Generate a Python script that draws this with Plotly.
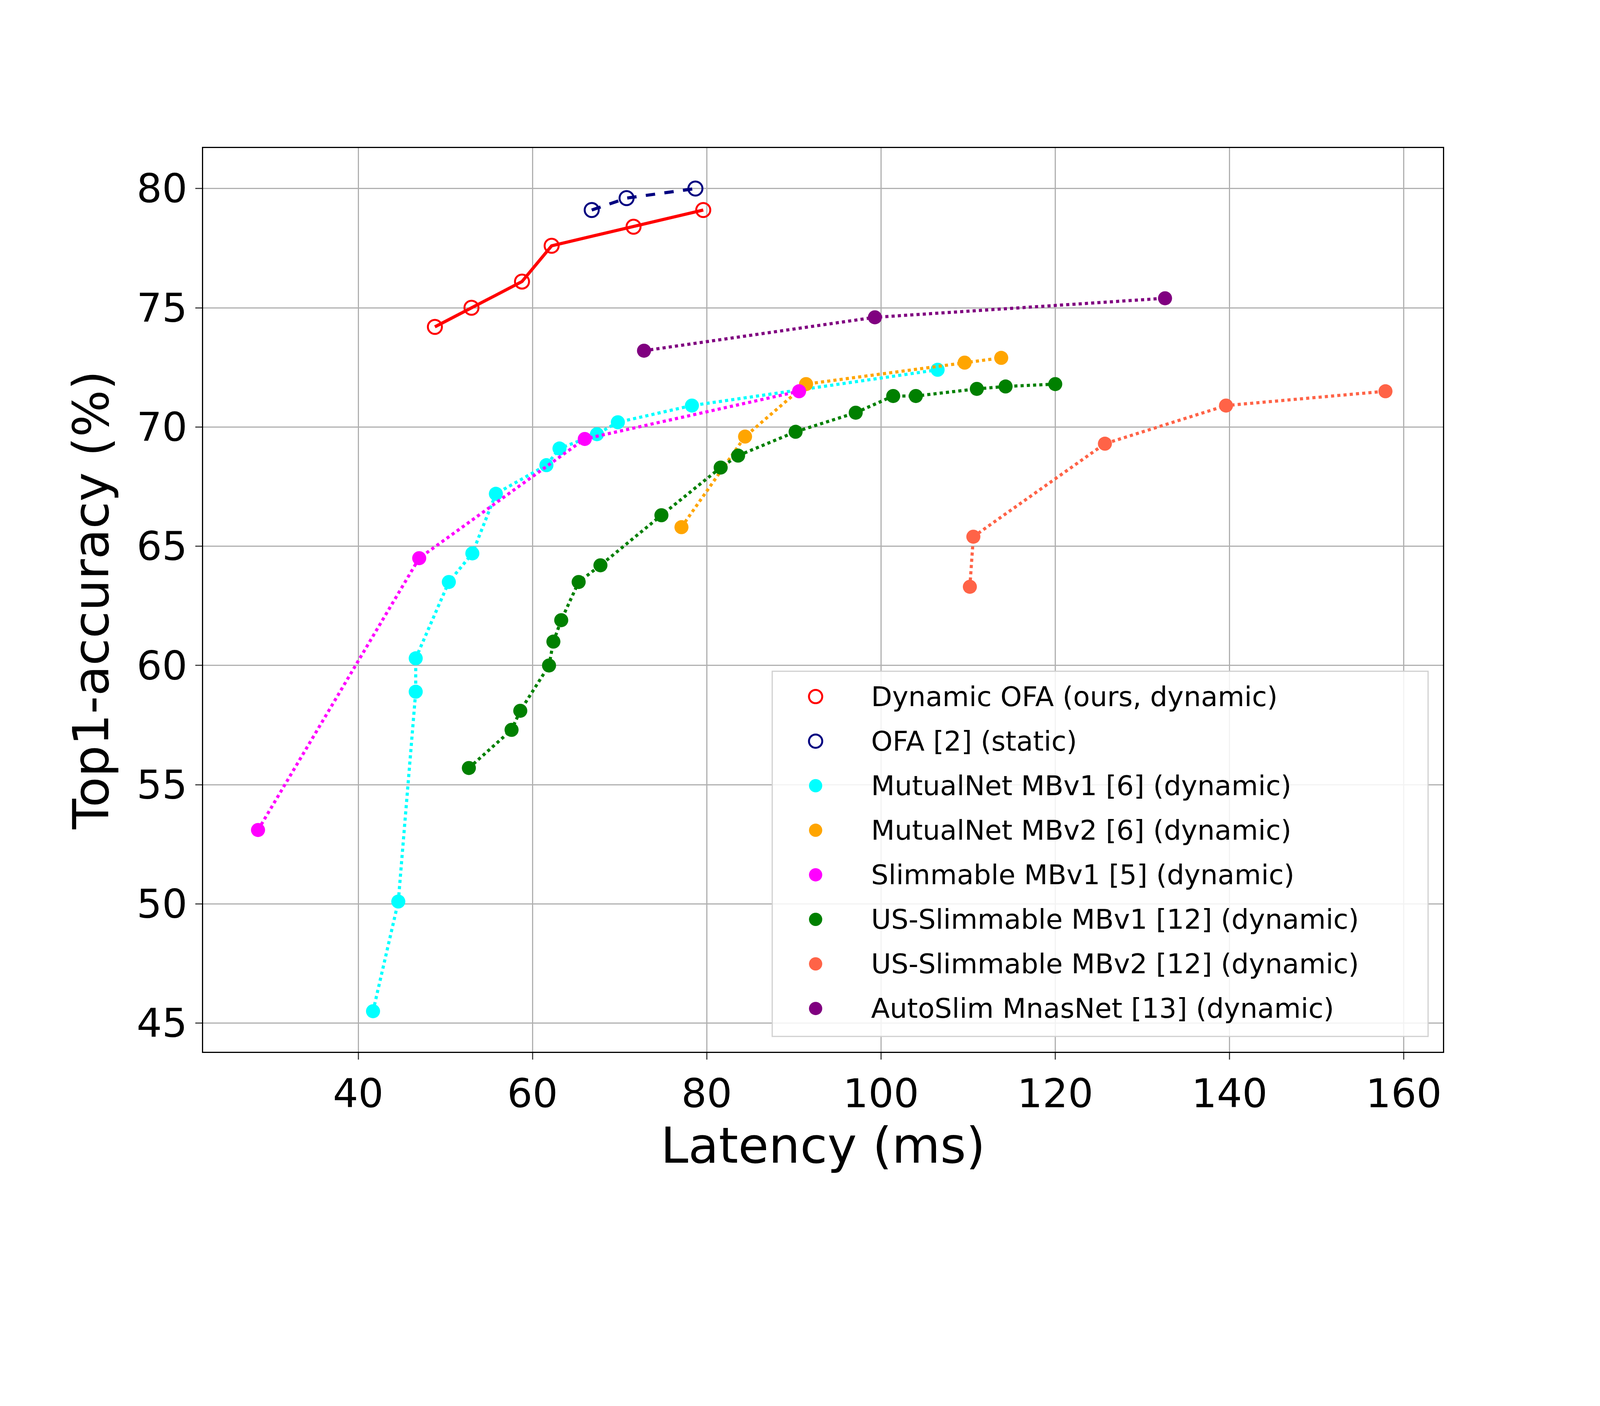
import plotly.graph_objects as go

ofa_dyn_x = [48.8, 53.0, 58.8, 62.2, 71.6, 79.6]
ofa_dyn_y = [74.2, 75.0, 76.1, 77.6, 78.4, 79.1]
ofa_x = [66.8, 70.8, 78.7]
ofa_y = [79.1, 79.6, 80.0]
mn1_x = [41.7, 44.6, 46.6, 46.6, 50.4, 53.1, 55.8, 61.6, 63.1, 67.4, 69.8, 78.3, 106.5]
mn1_y = [45.5, 50.1, 58.9, 60.3, 63.5, 64.7, 67.2, 68.4, 69.1, 69.7, 70.2, 70.9, 72.4]
mn2_x = [77.1, 84.4, 91.4, 109.6, 113.8]
mn2_y = [65.8, 69.6, 71.8, 72.7, 72.9]
sl_x = [28.5, 47.0, 66.0, 90.6]
sl_y = [53.1, 64.5, 69.5, 71.5]
us1_x = [52.7, 57.6, 58.6, 61.9, 62.4, 63.3, 65.3, 67.8, 74.8, 81.6, 83.6, 90.2, 97.1, 101.4, 104.0, 111.0, 114.3, 120.0]
us1_y = [55.7, 57.3, 58.1, 60.0, 61.0, 61.9, 63.5, 64.2, 66.3, 68.3, 68.8, 69.8, 70.6, 71.3, 71.3, 71.6, 71.7, 71.8]
us2_x = [110.2, 110.6, 125.7, 139.6, 157.9]
us2_y = [63.3, 65.4, 69.3, 70.9, 71.5]
as_x = [72.8, 99.3, 132.6]
as_y = [73.2, 74.6, 75.4]

series = [
    ("Dynamic OFA (ours, dynamic)", ofa_dyn_x, ofa_dyn_y, "red", "solid", True),
    ("OFA [2] (static)", ofa_x, ofa_y, "navy", "dash", True),
    ("MutualNet MBv1 [6] (dynamic)", mn1_x, mn1_y, "cyan", "dot", False),
    ("MutualNet MBv2 [6] (dynamic)", mn2_x, mn2_y, "orange", "dot", False),
    ("Slimmable MBv1 [5] (dynamic)", sl_x, sl_y, "magenta", "dot", False),
    ("US-Slimmable MBv1 [12] (dynamic)", us1_x, us1_y, "green", "dot", False),
    ("US-Slimmable MBv2 [12] (dynamic)", us2_x, us2_y, "tomato", "dot", False),
    ("AutoSlim MnasNet [13] (dynamic)", as_x, as_y, "purple", "dot", False),
]

fig = go.Figure()
for name, x, y, c, dash, hollow in series:
    marker = dict(size=36, color="rgba(0,0,0,0)" if hollow else c,
                  line=dict(color=c, width=5 if hollow else 0))
    fig.add_trace(go.Scatter(x=x, y=y, mode="lines+markers", name=name, showlegend=False,
                             line=dict(color=c, width=8, dash=dash), marker=marker))

# hand-made legend (plotly caps legend marker size)
shapes = [dict(type="rect", xref="paper", yref="paper", x0=0.459, x1=0.988, y0=0.017, y1=0.421,
               line=dict(color="#d0d0d0", width=3), fillcolor="rgba(255,255,255,0.85)", layer="above")]
annotations = []
for i, (name, x, y, c, dash, hollow) in enumerate(series):
    yy = 0.393 - i * 0.0493
    shapes.append(dict(type="circle", xref="paper", yref="paper", xsizemode="pixel", ysizemode="pixel",
                       xanchor=0.494, yanchor=yy, x0=-17, x1=17, y0=-17, y1=17, layer="above",
                       fillcolor="white" if hollow else c, line=dict(color=c, width=5 if hollow else 0)))
    annotations.append(dict(xref="paper", yref="paper", x=0.538, y=yy, text=name, showarrow=False,
                            xanchor="left", yanchor="middle", font=dict(size=70)))

axis = dict(showline=True, linecolor="black", linewidth=3, mirror=True,
            showgrid=True, gridcolor="#b0b0b0", gridwidth=3, zeroline=False,
            ticks="outside", ticklen=17, tickwidth=3, tickfont=dict(size=102))
fig.update_layout(
    width=4075, height=3056, paper_bgcolor="white", plot_bgcolor="white",
    font=dict(family="DejaVu Sans", color="black"),
    margin=dict(l=512, r=389, t=371, b=371),
    xaxis=dict(axis, range=[22.2, 164.5], tickvals=[40, 60, 80, 100, 120, 140, 160],
               title=dict(text="Latency (ms)", font=dict(size=127), standoff=15)),
    yaxis=dict(axis, range=[43.8, 81.7], tickvals=[45, 50, 55, 60, 65, 70, 75, 80],
               title=dict(text="Top1-accuracy (%)", font=dict(size=127), standoff=30)),
    showlegend=False, shapes=shapes, annotations=annotations,
)
fig.write_html("out.html")
